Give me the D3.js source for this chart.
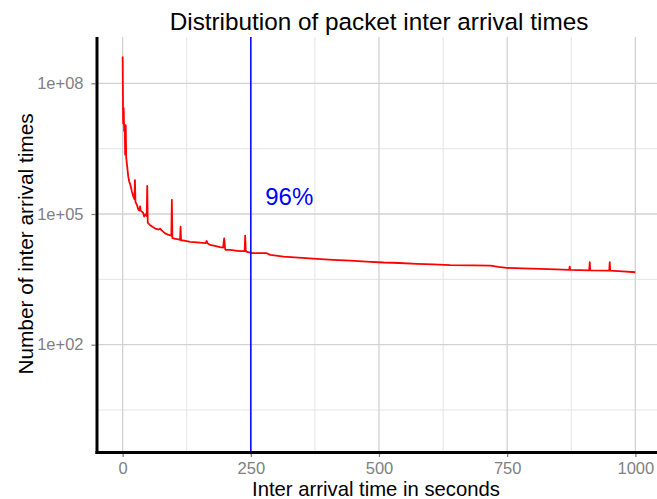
<!DOCTYPE html>
<html>
<head>
<meta charset="utf-8">
<script src="https://cdn.jsdelivr.net/npm/d3@7/dist/d3.min.js"></script>
<style>
  html, body { margin: 0; padding: 0; background: #ffffff; }
  svg { display: block; }
  text { font-family: "Liberation Sans", Arial, Helvetica, sans-serif; }
</style>
</head>
<body>
<script>
// ---------------- data ----------------
const interArrivalSeconds = [
  0, 1, 2, 3, 4, 5, 6, 7, 8, 9, 11, 13, 15, 18, 21, 23, 24, 25, 28, 31, 33, 34, 35, 37, 40,
  42, 44, 46, 47, 48, 49, 53, 58, 63, 70, 73, 76, 83, 90, 95, 96, 97, 103, 109, 112, 113, 114,
  120, 132, 151, 162, 164, 166, 171, 180, 190, 196, 198, 200, 201, 210, 220, 229, 238, 239, 240,
  241, 245, 249, 252, 281, 288, 314, 350, 379, 410, 444, 475, 509, 540, 574, 606, 639, 684,
  717, 733, 749, 780, 814, 845, 871, 872, 873, 910, 911, 912, 949, 950, 951, 975, 1000
];
const arrivalCounts = [
  4.1e8, 1.2e7, 2.7e7, 8.0e6, 1.1e7, 2.3e6, 1.1e7, 2.0e6, 1.5e6, 1.2e6, 7.2e5, 5.5e5, 4.7e5,
  3.3e5, 2.5e5, 2.2e5, 6.0e5, 1.9e5, 1.6e5, 1.24e5, 1.2e5, 1.5e5, 1.2e5, 1.15e5, 1.07e5,
  8.7e4, 9.5e4, 1.0e5, 9.0e4, 4.4e5, 6.3e4, 5.6e4, 5.1e4, 4.7e4, 4.4e4, 4.6e4, 4.2e4, 3.6e4,
  3.3e4, 3.2e4, 2.1e5, 2.8e4, 2.7e4, 2.6e4, 2.55e4, 5.1e4, 2.5e4,
  2.45e4, 2.3e4, 2.2e4, 2.15e4, 2.4e4, 2.1e4, 1.95e4, 1.85e4, 1.74e4, 1.7e4, 2.75e4, 1.55e4,
  1.5e4, 1.5e4, 1.45e4, 1.4e4, 1.4e4, 3.2e4, 1.5e4,
  1.37e4, 1.33e4, 1.3e4, 1.26e4, 1.26e4, 1.15e4, 1.05e4, 9.8e3, 9.3e3, 8.9e3, 8.5e3, 8.1e3,
  7.7e3, 7.5e3, 7.2e3, 6.95e3, 6.7e3, 6.6e3,
  6.5e3, 6.1e3, 5.8e3, 5.65e3, 5.5e3, 5.35e3, 5.2e3, 6.2e3, 5.2e3, 5.1e3, 7.8e3, 5.1e3, 5.0e3, 7.8e3,
  5.0e3, 4.8e3, 4.6e3
];
const xTicks = [0, 250, 500, 750, 1000];
const xTickLabels = ["0", "250", "500", "750", "1000"];
const xMinorBreaks = [125, 375, 625, 875];
const yTicks = [1e2, 1e5, 1e8];
const yTickLabels = ["1e+02", "1e+05", "1e+08"];
const yMinorBreaks = [Math.pow(10, 0.5), Math.pow(10, 3.5), Math.pow(10, 6.5)];
const cutoffSeconds = [250];
const cutoffLabel = ["96%"];
const cutoffLabelPos = [325, Math.pow(10, 5.4)];
const chartTitle = "Distribution of packet inter arrival times";
const xTitle = "Inter arrival time in seconds";
const yTitle = "Number of inter arrival times";

// ---------------- layout ----------------
const W = 657, H = 499;
const panel = { left: 97, right: 661, top: 37, bottom: 451 };

const x = d3.scaleLinear().domain([-50, 1050]).range([panel.left, panel.right]);
const y = d3.scaleLog().domain([Math.pow(10, -0.44), Math.pow(10, 9.063)]).range([panel.bottom, panel.top]);

const svg = d3.select("body").append("svg").attr("width", W).attr("height", H);
svg.append("rect").attr("width", W).attr("height", H).attr("fill", "#ffffff");

svg.append("defs").append("clipPath").attr("id", "clip")
  .append("rect").attr("x", panel.left).attr("y", panel.top)
  .attr("width", panel.right - panel.left).attr("height", panel.bottom - panel.top);

const grid = svg.append("g");
// minor grid
grid.selectAll("line.xminor").data(xMinorBreaks).enter().append("line")
  .attr("x1", d => x(d)).attr("x2", d => x(d)).attr("y1", panel.top).attr("y2", panel.bottom)
  .attr("stroke", "#e4e4e4").attr("stroke-width", 1);
grid.selectAll("line.yminor").data(yMinorBreaks).enter().append("line")
  .attr("y1", d => y(d)).attr("y2", d => y(d)).attr("x1", panel.left).attr("x2", panel.right)
  .attr("stroke", "#e4e4e4").attr("stroke-width", 1);
// major grid
grid.selectAll("line.xmajor").data(xTicks).enter().append("line")
  .attr("x1", d => x(d)).attr("x2", d => x(d)).attr("y1", panel.top).attr("y2", panel.bottom)
  .attr("stroke", "#d2d2d2").attr("stroke-width", 1.3);
grid.selectAll("line.ymajor").data(yTicks).enter().append("line")
  .attr("y1", d => y(d)).attr("y2", d => y(d)).attr("x1", panel.left).attr("x2", panel.right)
  .attr("stroke", "#d2d2d2").attr("stroke-width", 1.3);

// data line
const pts = interArrivalSeconds.map((s, i) => [s, arrivalCounts[i]]);
const line = d3.line().x(d => x(d[0])).y(d => y(d[1]));
svg.append("path").datum(pts).attr("clip-path", "url(#clip)")
  .attr("d", line).attr("fill", "none").attr("stroke", "#ff0000")
  .attr("stroke-width", 1.8).attr("stroke-linejoin", "round");

// cutoff line
svg.selectAll("line.cut").data(cutoffSeconds).enter().append("line")
  .attr("x1", d => x(d)).attr("x2", d => x(d)).attr("y1", panel.top).attr("y2", panel.bottom)
  .attr("stroke", "#0000ff").attr("stroke-width", 1.5);
svg.append("text").attr("x", x(cutoffLabelPos[0])).attr("y", y(cutoffLabelPos[1]))
  .attr("text-anchor", "middle").attr("dy", "0.36em")
  .attr("fill", "#0000ff").attr("font-size", 24).text(cutoffLabel[0]);

// axes via d3
const xAxis = d3.axisBottom(x).tickValues(xTicks).tickFormat((d, i) => xTickLabels[i])
  .tickSize(4).tickPadding(5.5);
const gx = svg.append("g").attr("transform", `translate(0,${panel.bottom + 2})`).call(xAxis);
gx.select(".domain").remove();
gx.selectAll(".tick line").attr("stroke", "#808080").attr("stroke-width", 1.3);
gx.selectAll(".tick text").attr("fill", "#808080").attr("font-size", 16.5)
  .attr("font-family", "'Liberation Sans', Arial, sans-serif");

const yAxis = d3.axisLeft(y).tickValues(yTicks).tickFormat((d, i) => yTickLabels[i])
  .tickSize(4).tickPadding(8);
const gy = svg.append("g").attr("transform", `translate(${panel.left - 1.5},0)`).call(yAxis);
gy.select(".domain").remove();
gy.selectAll(".tick line").attr("stroke", "#808080").attr("stroke-width", 1.3);
gy.selectAll(".tick text").attr("fill", "#808080").attr("font-size", 16.5)
  .attr("font-family", "'Liberation Sans', Arial, sans-serif");

// axis lines (thick black)
svg.append("line").attr("x1", panel.left).attr("x2", panel.left)
  .attr("y1", panel.top).attr("y2", panel.bottom + 3)
  .attr("stroke", "#000").attr("stroke-width", 3);
svg.append("line").attr("x1", panel.left - 1.5).attr("x2", panel.right)
  .attr("y1", panel.bottom + 1.5).attr("y2", panel.bottom + 1.5)
  .attr("stroke", "#000").attr("stroke-width", 3);

// titles
const cx = (panel.left + panel.right) / 2;
svg.append("text").attr("x", cx).attr("y", 30).attr("text-anchor", "middle")
  .attr("font-size", 24.3).attr("fill", "#000").text(chartTitle);
svg.append("text").attr("x", cx - 3).attr("y", 495.5).attr("text-anchor", "middle")
  .attr("font-size", 20.3).attr("fill", "#000").text(xTitle);
svg.append("text").attr("transform", `translate(33,${(panel.top + panel.bottom) / 2}) rotate(-90)`)
  .attr("text-anchor", "middle").attr("font-size", 20.8).attr("fill", "#000").text(yTitle);
</script>
</body>
</html>
